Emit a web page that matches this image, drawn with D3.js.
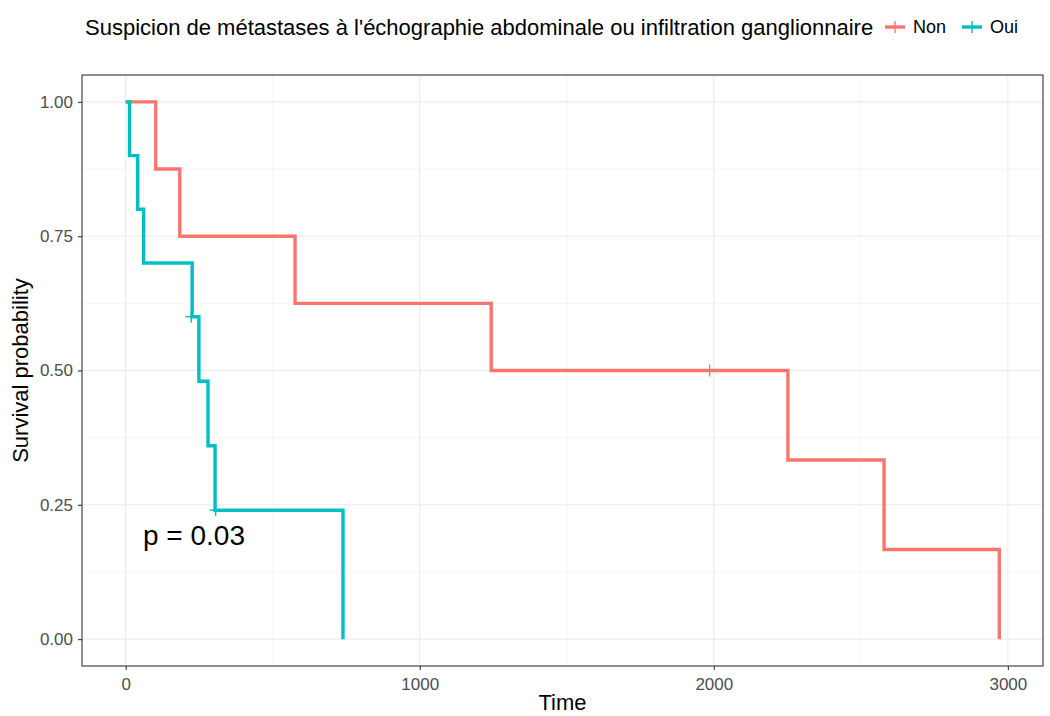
<!DOCTYPE html>
<html><head><meta charset="utf-8">
<script src="https://cdn.jsdelivr.net/npm/d3@7"></script>
<style>body{margin:0;background:#fff}svg{display:block}</style>
</head><body><svg id="c" width="1050" height="716"></svg>
<script>
const groups = ["Non", "Oui"];
const colors = ["#F8766D", "#00BFC4"];
// step curves: [time, survival]
const nonTimes = [0, 102, 184, 576, 1243, 2252, 2579, 2971];
const nonSurv  = [1, 0.875, 0.75, 0.625, 0.5, 0.3333, 0.1667, 0];
const nonCensorTimes = [1986];
const nonCensorSurv = [0.5];
const ouiTimes = [0, 13, 41, 61, 226, 249, 280, 304, 739];
const ouiSurv  = [1, 0.9, 0.8, 0.7, 0.6, 0.48, 0.36, 0.24, 0];
const ouiCensorTimes = [223, 306];
const ouiCensorSurv = [0.6, 0.24];
const xTicks = [0, 1000, 2000, 3000];
const yTicks = [0, 0.25, 0.5, 0.75, 1];
const xMinor = [500, 1500, 2500];
const yMinor = [0.125, 0.375, 0.625, 0.875];
const pLabel = "p = 0.03";
const legendTitle = "Suspicion de métastases à l'échographie abdominale ou infiltration ganglionnaire";

const svg = d3.select("#c");
const L = 82, R = 1043, T = 75, B = 666;
const x = d3.scaleLinear().domain([-148.55, 3119.55]).range([L, R]);
const y = d3.scaleLinear().domain([-0.05, 1.05]).range([B, T]);
const font = "Liberation Sans, Arial, Helvetica, sans-serif";

// grid
const g = svg.append("g");
xMinor.forEach(v => g.append("line").attr("x1", x(v)).attr("x2", x(v)).attr("y1", T).attr("y2", B).attr("stroke", "#EBEBEB").attr("stroke-width", 0.55));
yMinor.forEach(v => g.append("line").attr("y1", y(v)).attr("y2", y(v)).attr("x1", L).attr("x2", R).attr("stroke", "#EBEBEB").attr("stroke-width", 0.55));
xTicks.forEach(v => g.append("line").attr("x1", x(v)).attr("x2", x(v)).attr("y1", T).attr("y2", B).attr("stroke", "#EBEBEB").attr("stroke-width", 1.1));
yTicks.forEach(v => g.append("line").attr("y1", y(v)).attr("y2", y(v)).attr("x1", L).attr("x2", R).attr("stroke", "#EBEBEB").attr("stroke-width", 1.1));

// curves
const line = d3.line().x(d => x(d[0])).y(d => y(d[1])).curve(d3.curveStepAfter);
const series = [
  {t: nonTimes, s: nonSurv, ct: nonCensorTimes, cs: nonCensorSurv},
  {t: ouiTimes, s: ouiSurv, ct: ouiCensorTimes, cs: ouiCensorSurv}
];
series.forEach((sr, i) => {
  const pts = sr.t.map((t, k) => [t, sr.s[k]]);
  svg.append("path").attr("d", line(pts)).attr("fill", "none").attr("stroke", colors[i]).attr("stroke-width", 3.4).attr("stroke-linejoin", "miter");
  sr.ct.forEach((t, k) => {
    const cx = x(t), cy = y(sr.cs[k]);
    svg.append("line").attr("x1", cx - 6).attr("x2", cx + 6).attr("y1", cy).attr("y2", cy).attr("stroke", colors[i]).attr("stroke-width", 1.4);
    svg.append("line").attr("x1", cx).attr("x2", cx).attr("y1", cy - 6).attr("y2", cy + 6).attr("stroke", colors[i]).attr("stroke-width", 1.4);
  });
});

// panel border
svg.append("rect").attr("x", L).attr("y", T).attr("width", R - L).attr("height", B - T).attr("fill", "none").attr("stroke", "#333333").attr("stroke-width", 1.1);

// axes
const xa = svg.append("g").attr("transform", `translate(0,${B})`).call(d3.axisBottom(x).tickValues(xTicks).tickSize(4).tickPadding(8).tickFormat(d3.format("d")));
const ya = svg.append("g").attr("transform", `translate(${L},0)`).call(d3.axisLeft(y).tickValues(yTicks).tickSize(4).tickPadding(5).tickFormat(d3.format(".2f")));
[xa, ya].forEach(a => {
  a.select(".domain").remove();
  a.selectAll(".tick line").attr("stroke", "#333333").attr("stroke-width", 1.1);
  a.selectAll(".tick text").attr("fill", "#4D4D4D").style("font-family", font).style("font-size", "17px");
});

// p value
svg.append("text").attr("x", x(59)).attr("y", 545).text(pLabel).style("font-family", font).style("font-size", "28px").attr("fill", "#000");

// axis titles
svg.append("text").attr("x", (L + R) / 2).attr("y", 710).attr("text-anchor", "middle").text("Time").style("font-family", font).style("font-size", "22px");
svg.append("text").attr("transform", `translate(28,${(T + B) / 2}) rotate(-90)`).attr("text-anchor", "middle").text("Survival probability").style("font-family", font).style("font-size", "22px");

// legend
const lg = svg.append("g");
lg.append("text").attr("x", 85).attr("y", 35).text(legendTitle).style("font-family", font).style("font-size", "22px");
const keyX = [885, 962];
groups.forEach((gname, i) => {
  const kx = keyX[i], ky = 27;
  lg.append("line").attr("x1", kx).attr("x2", kx + 20).attr("y1", ky).attr("y2", ky).attr("stroke", colors[i]).attr("stroke-width", 3.4);
  lg.append("line").attr("x1", kx + 10).attr("x2", kx + 10).attr("y1", ky - 6).attr("y2", ky + 6).attr("stroke", colors[i]).attr("stroke-width", 1.4);
  lg.append("text").attr("x", kx + 28).attr("y", ky + 6).text(gname).style("font-family", font).style("font-size", "18px");
});
</script></body></html>
